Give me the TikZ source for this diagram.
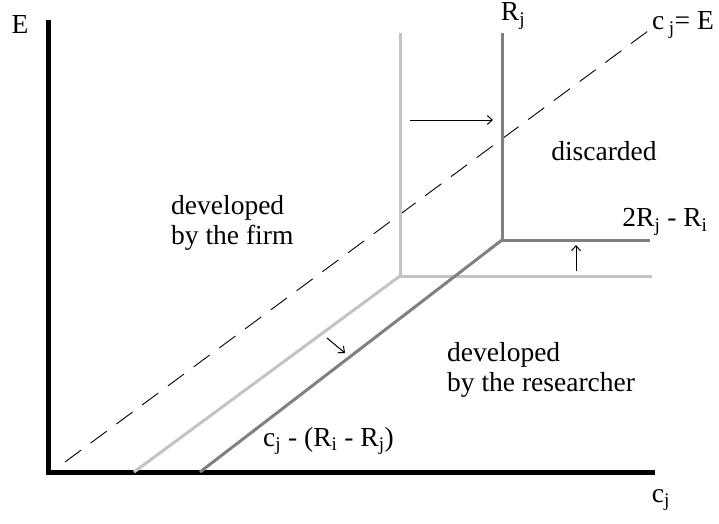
\documentclass[tikz,border=0pt]{standalone}
\usepackage{fontspec}
\setmainfont{Liberation Serif}
\usetikzlibrary{arrows.meta}
\definecolor{lightln}{RGB}{195,195,195}
\definecolor{darkln}{RGB}{128,128,128}
\begin{document}
\begin{tikzpicture}[x=1pt,y=-1pt,
  lbl/.style={font=\fontsize{27.5}{30}\selectfont, inner sep=0pt},
  axisln/.style={line width=5pt,black},
  lightline/.style={line width=3pt,lightln},
  darkline/.style={line width=3pt,darkln},
  dashln/.style={line width=0.9pt,dash pattern=on 20pt off 12pt},
  shiftarrow/.style={line width=1pt,-{Straight Barb[length=5pt,width=9pt]}}]
\useasboundingbox (0,0) rectangle (719,523);
% axes
\coordinate (top) at (48,20);
\coordinate (orig) at (48,472);
\coordinate (xend) at (655,472);
\draw[axisln] (top) -- (orig) -- (xend);
% dashed line c_j = E
\coordinate (d1) at (65,462);
\coordinate (d2) at (648,31);
\draw[dashln] (d1) -- (d2);
% light (old) boundary
\coordinate (la) at (400,33);
\coordinate (lc) at (400,276);
\coordinate (lr) at (652,276);
\coordinate (lb) at (134,472);
\draw[lightline] (la) -- (lc) -- (lr);
\draw[lightline] (lc) -- (lb);
% dark (new) boundary
\coordinate (da) at (502,33);
\coordinate (dc) at (502,240);
\coordinate (dr) at (650,240);
\coordinate (db) at (200,472);
\draw[darkline] (da) -- (dc) -- (dr);
\draw[darkline] (dc) -- (db);
% shift arrows
\coordinate (a1s) at (410,120);
\coordinate (a1e) at (493,120);
\draw[shiftarrow] (a1s) -- (a1e);
\coordinate (a2s) at (576,271);
\coordinate (a2e) at (576,245);
\draw[shiftarrow] (a2s) -- (a2e);
\coordinate (a3s) at (327,338);
\coordinate (a3e) at (345,353);
\draw[shiftarrow] (a3s) -- (a3e);
% labels
\node[lbl] (lE) at (20,24) {E};
\node[lbl] (lcj) at (661,500) {c\textsubscript{j}};
\node[lbl] (lRj) at (513,16) {R\textsubscript{j}};
\node[lbl] (lcjE) at (683,25) {c\,\textsubscript{j}= E};
\node[lbl] (ldisc) at (604,151) {discarded};
\node[lbl] (l2R) at (665,222) {2R\textsubscript{j} - R\textsubscript{i}};
\node[lbl,anchor=west,align=left] (lfirm) at (171,223) {developed\\by the firm};
\node[lbl,anchor=west,align=left] (lres) at (447,370) {developed\\by the researcher};
\node[lbl,anchor=west] (lcr) at (263,441) {c\textsubscript{j} - (R\textsubscript{i} - R\textsubscript{j})};
\end{tikzpicture}
\end{document}
